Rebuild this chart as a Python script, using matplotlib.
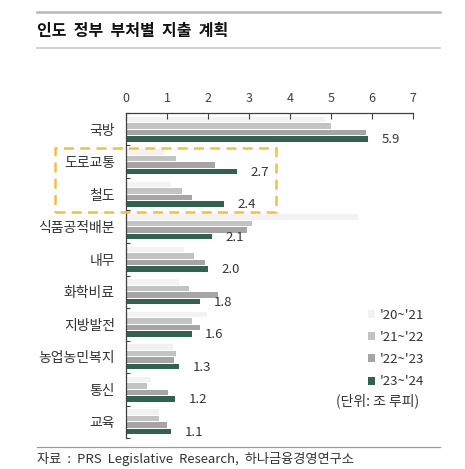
import numpy as np
import matplotlib.pyplot as plt
from matplotlib.patches import Rectangle, Patch
from matplotlib.lines import Line2D

plt.rcParams['font.family'] = ['Noto Sans CJK KR', 'DejaVu Sans']

categories = ['국방', '도로교통', '철도', '식품공적배분', '내무', '화학비료',
              '지방발전', '농업농민복지', '통신', '교육']
years = ["'20~'21", "'21~'22", "'22~'23", "'23~'24"]
fy21 = [4.85, 0.95, 1.09, 5.65, 1.41, 1.29, 1.97, 1.15, 0.61, 0.81]
fy22 = [5.01, 1.21, 1.36, 3.07, 1.67, 1.54, 1.62, 1.22, 0.50, 0.80]
fy23 = [5.85, 2.17, 1.62, 2.94, 1.93, 2.25, 1.80, 1.18, 1.03, 0.99]
fy24 = [5.90, 2.70, 2.40, 2.10, 2.00, 1.80, 1.60, 1.30, 1.20, 1.10]
series = [fy21, fy22, fy23, fy24]
colors = ['#f2f2f2', '#c3c3c3', '#a5a5a5', '#33614f']

fig = plt.figure(figsize=(4.65, 4.69), dpi=100)
ax = fig.add_axes([126 / 465, 1 - 438 / 469, 287 / 465, 325 / 469])

y = np.arange(len(categories))
offsets = [-0.3, -0.1, 0.1, 0.3]
for vals, off, c, lab in zip(series, offsets, colors, years):
    ax.barh(y + off, vals, height=0.17, color=c, label=lab)

for yi, v in zip(y, fy24):
    ax.text(v + 0.33, yi + 0.33, f'{v:.1f}', va='center', ha='left',
            fontsize=9.5, color='#333333')

ax.set_xlim(0, 7)
ax.set_ylim(len(categories) - 0.5, -0.5)
ax.xaxis.tick_top()
ax.set_xticks(range(8))
ax.tick_params(axis='x', direction='in', length=4, width=0.8, color='#404040',
               labelsize=9, labelcolor='#404040', pad=6)
ax.set_yticks(np.arange(-0.5, len(categories)))
ax.set_yticklabels([])
ax.set_yticks(y, minor=True)
ax.set_yticklabels(categories, minor=True)
ax.tick_params(axis='y', which='major', direction='in', length=3, width=0.8,
               color='#404040')
ax.tick_params(axis='y', which='minor', length=0, labelsize=10,
               labelcolor='#333333', pad=8)
for s in ['right', 'bottom']:
    ax.spines[s].set_visible(False)
for s in ['top', 'left']:
    ax.spines[s].set_color('#404040')
    ax.spines[s].set_linewidth(0.9)

handles = [Patch(facecolor=c, edgecolor='none') for c in colors]
fig.legend(handles, years, loc='upper left',
           bbox_to_anchor=(361 / 465, 1 - 302 / 469), frameon=False,
           fontsize=9.5, handlelength=0.55, handleheight=0.55,
           handletextpad=0.4, labelspacing=0.7, borderpad=0,
           labelcolor='#333333')
fig.text(336 / 465, 1 - 401 / 469, '(단위: 조 루피)', fontsize=10,
         color='#333333', va='center', ha='left')

# highlight box
fig.add_artist(Rectangle((55 / 465, 1 - 212 / 469), 221 / 465, 64 / 469,
                         transform=fig.transFigure, fill=False,
                         edgecolor='#f0c040', linewidth=1.8,
                         linestyle=(0, (4, 2.5))))

# header / footer
fig.add_artist(Line2D([37 / 465, 440 / 465], [1 - 12 / 469, 1 - 12 / 469],
                      color='#b8b8b8', linewidth=1.8))
fig.add_artist(Line2D([37 / 465, 440 / 465], [1 - 48 / 469, 1 - 48 / 469],
                      color='#c8c8c8', linewidth=1.2))
fig.text(37 / 465, 1 - 31 / 469, '인도  정부  부처별  지출  계획', fontsize=11.5,
         fontweight='bold', color='#111111', va='center', ha='left')
fig.add_artist(Line2D([37 / 465, 440 / 465], [1 - 447 / 469, 1 - 447 / 469],
                      color='#999999', linewidth=0.9))
fig.text(37 / 465, 1 - 459 / 469,
         '자료  :  PRS  Legislative  Research,  하나금융경영연구소',
         fontsize=9.5, color='#333333', va='center', ha='left')

fig.savefig('out.png', dpi=100)
